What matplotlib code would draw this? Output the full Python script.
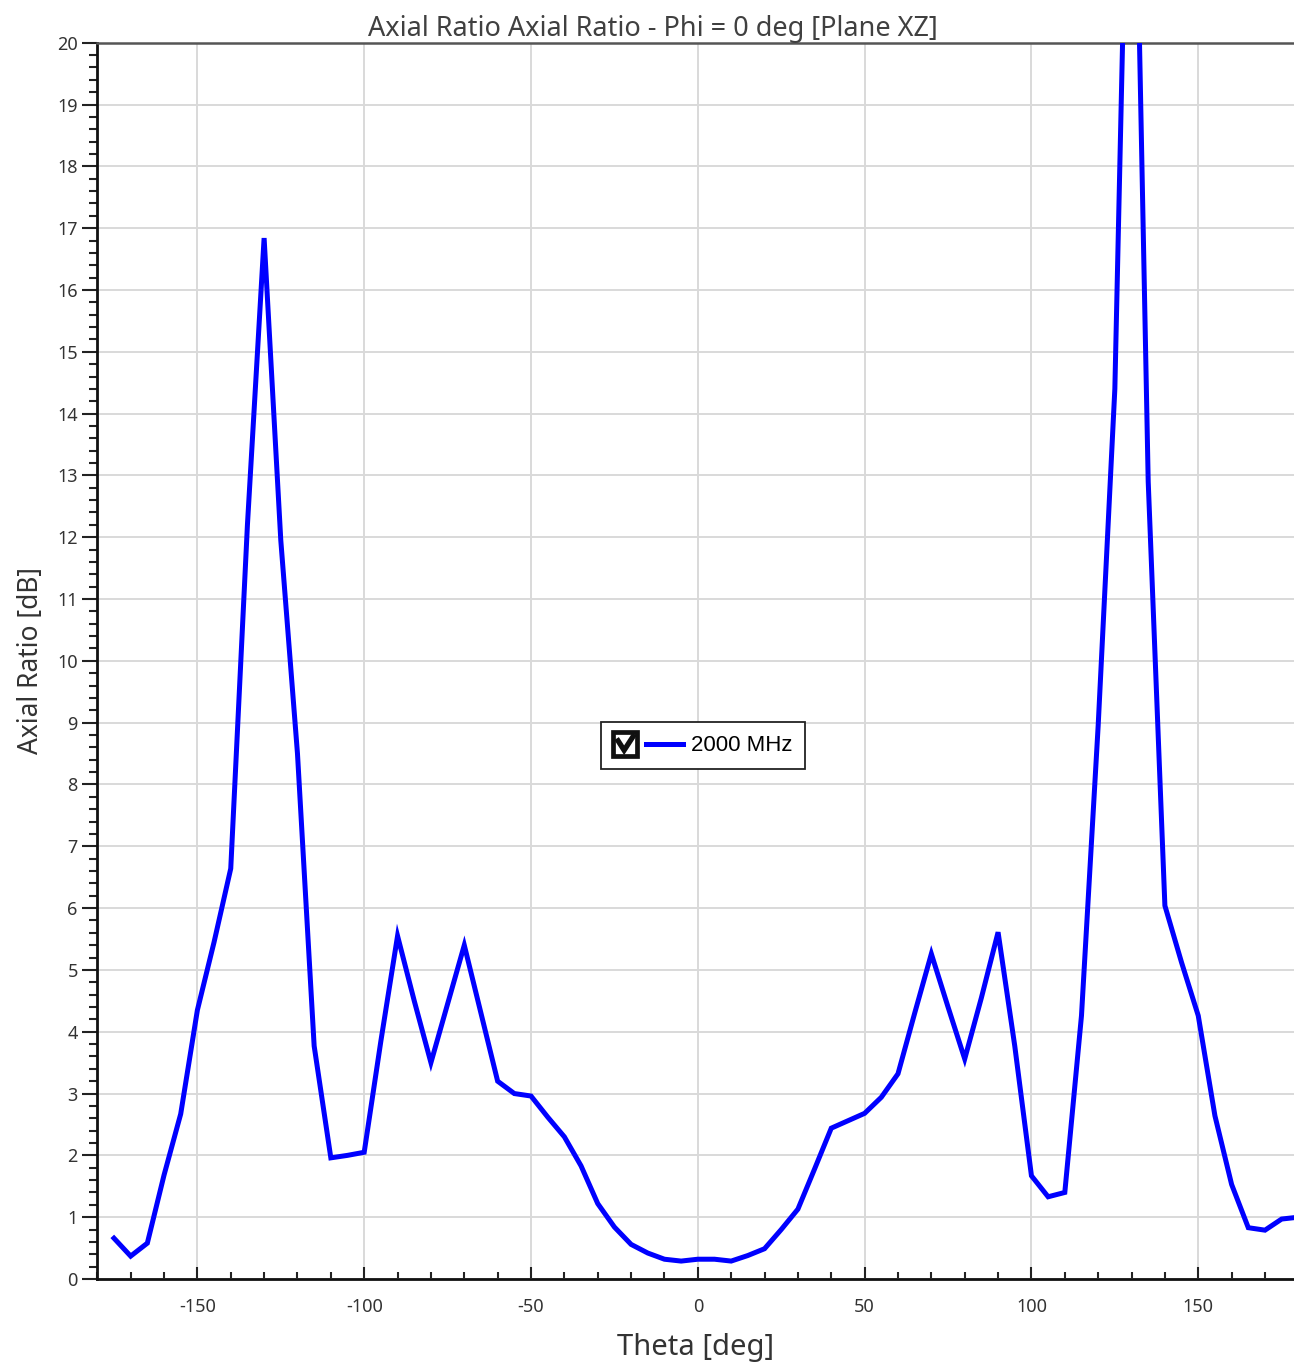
import matplotlib
matplotlib.use("Agg")
import matplotlib.pyplot as plt
from matplotlib.legend_handler import HandlerBase
from matplotlib.lines import Line2D
from matplotlib.patches import Rectangle
from matplotlib.ticker import MultipleLocator

# Axial ratio cut, Phi = 0 deg, 2000 MHz
theta_deg = [-175, -170, -165, -160, -155, -150, -145, -140, -135, -130,
             -125, -120, -115, -110, -105, -100, -95, -90, -85, -80,
             -75, -70, -65, -60, -55, -50, -45, -40, -35, -30,
             -25, -20, -15, -10, -5, 0, 5, 10, 15, 20,
             25, 30, 35, 40, 45, 50, 55, 60, 65, 70,
             75, 80, 85, 90, 95, 100, 105, 110, 115, 120,
             125, 130, 135, 140, 145, 150, 155, 160, 165, 170,
             175, 180]
axial_ratio_db = [0.66, 0.37, 0.58, 1.68, 2.67, 4.35, 5.45, 6.64, 12.2, 16.84,
                  11.95, 8.5, 3.77, 1.96, 2.0, 2.05, 3.85, 5.55, 4.5, 3.5,
                  4.45, 5.4, 4.3, 3.2, 3.0, 2.96, 2.62, 2.3, 1.83, 1.22,
                  0.84, 0.56, 0.42, 0.32, 0.29, 0.32, 0.32, 0.29, 0.38, 0.49,
                  0.8, 1.13, 1.78, 2.44, 2.56, 2.68, 2.94, 3.32, 4.3, 5.26,
                  4.4, 3.56, 4.55, 5.61, 3.77, 1.67, 1.33, 1.40, 4.26, 8.95,
                  14.4, 26.5, 12.9, 6.04, 5.12, 4.26, 2.64, 1.53, 0.83, 0.79,
                  0.97, 1.0]
series_label = "2000 MHz"


class CheckedLineHandler(HandlerBase):
    """Legend handle: a ticked check box followed by the series line."""

    def create_artists(self, legend, orig_handle, xdescent, ydescent,
                       width, height, fontsize, trans):
        yc = height / 2 - ydescent
        s = 17.5  # box side (points)
        x0 = -xdescent
        box = Rectangle((x0, yc - s / 2), s, s, facecolor="white",
                        edgecolor="#111111", lw=3.4, transform=trans)
        tick = Line2D([x0 + 0.2 * s, x0 + 0.45 * s, x0 + 0.82 * s],
                      [yc + 0.12 * s, yc - 0.27 * s, yc + 0.3 * s],
                      color="#111111", lw=3.8, solid_joinstyle="miter",
                      transform=trans)
        line = Line2D([x0 + s + 6, x0 + width], [yc, yc],
                      color=orig_handle.get_color(), lw=3.6,
                      transform=trans)
        return [box, tick, line]


plt.rcParams["font.family"] = ["Noto Sans", "DejaVu Sans"]
plt.rcParams["axes.unicode_minus"] = False

W, H = 1294, 1364
fig = plt.figure(figsize=(W / 100, H / 100), dpi=100)
left, right, top, bottom = 97.3, 1294, 42.7, 1279
ax = fig.add_axes([left / W, 1 - bottom / H, (right - left) / W,
                   (bottom - top) / H])

line, = ax.plot(theta_deg, axial_ratio_db, color="#0000ff", lw=3.6,
                solid_joinstyle="miter", label=series_label, zorder=3)

ax.set_xlim(-180, 178.7)
ax.set_ylim(0, 20)

ax.xaxis.set_major_locator(MultipleLocator(50))
ax.xaxis.set_minor_locator(MultipleLocator(10))
ax.yaxis.set_major_locator(MultipleLocator(1))
ax.yaxis.set_minor_locator(MultipleLocator(0.2))

ax.grid(True, which="major", color="#d9d9d9", lw=1.4, zorder=0)
ax.set_axisbelow(True)

ax.tick_params(axis="x", which="major", direction="in", length=9, width=1.5,
               color="#222222", labelsize=13, labelcolor="#333333", pad=14)
ax.tick_params(axis="x", which="minor", direction="in", length=5, width=1.5,
               color="#222222")
ax.tick_params(axis="y", which="major", direction="out", length=11,
               width=1.5, color="#222222", labelsize=13,
               labelcolor="#333333", pad=3)
ax.tick_params(axis="y", which="minor", direction="out", length=5.5,
               width=1.5, color="#222222")

for side in ["left", "bottom"]:
    ax.spines[side].set_color("#111111")
    ax.spines[side].set_linewidth(2)
ax.spines["top"].set_color("#555555")
ax.spines["top"].set_linewidth(1.8)
ax.spines["right"].set_visible(False)

ax.set_title("Axial Ratio Axial Ratio - Phi = 0 deg [Plane XZ]",
             fontsize=19.5, color="#404040", pad=5, x=0.4645)
ax.set_xlabel("Theta [deg]", fontsize=21, color="#333333", labelpad=12)
ax.set_ylabel("Axial Ratio [dB]", fontsize=19, color="#333333", labelpad=9)

leg = ax.legend(handles=[line], labels=[series_label],
                handler_map={Line2D: CheckedLineHandler()},
                loc="center", bbox_to_anchor=(0.506, 0.4316),
                frameon=True, fancybox=False, edgecolor="#222222",
                framealpha=1, handlelength=3.15, handleheight=0.9,
                handletextpad=0.35, borderpad=0.55, borderaxespad=0,
                prop={"family": ["Liberation Sans"], "size": 16})
leg.get_frame().set_linewidth(1.3)

fig.savefig("out.png", dpi=100)
